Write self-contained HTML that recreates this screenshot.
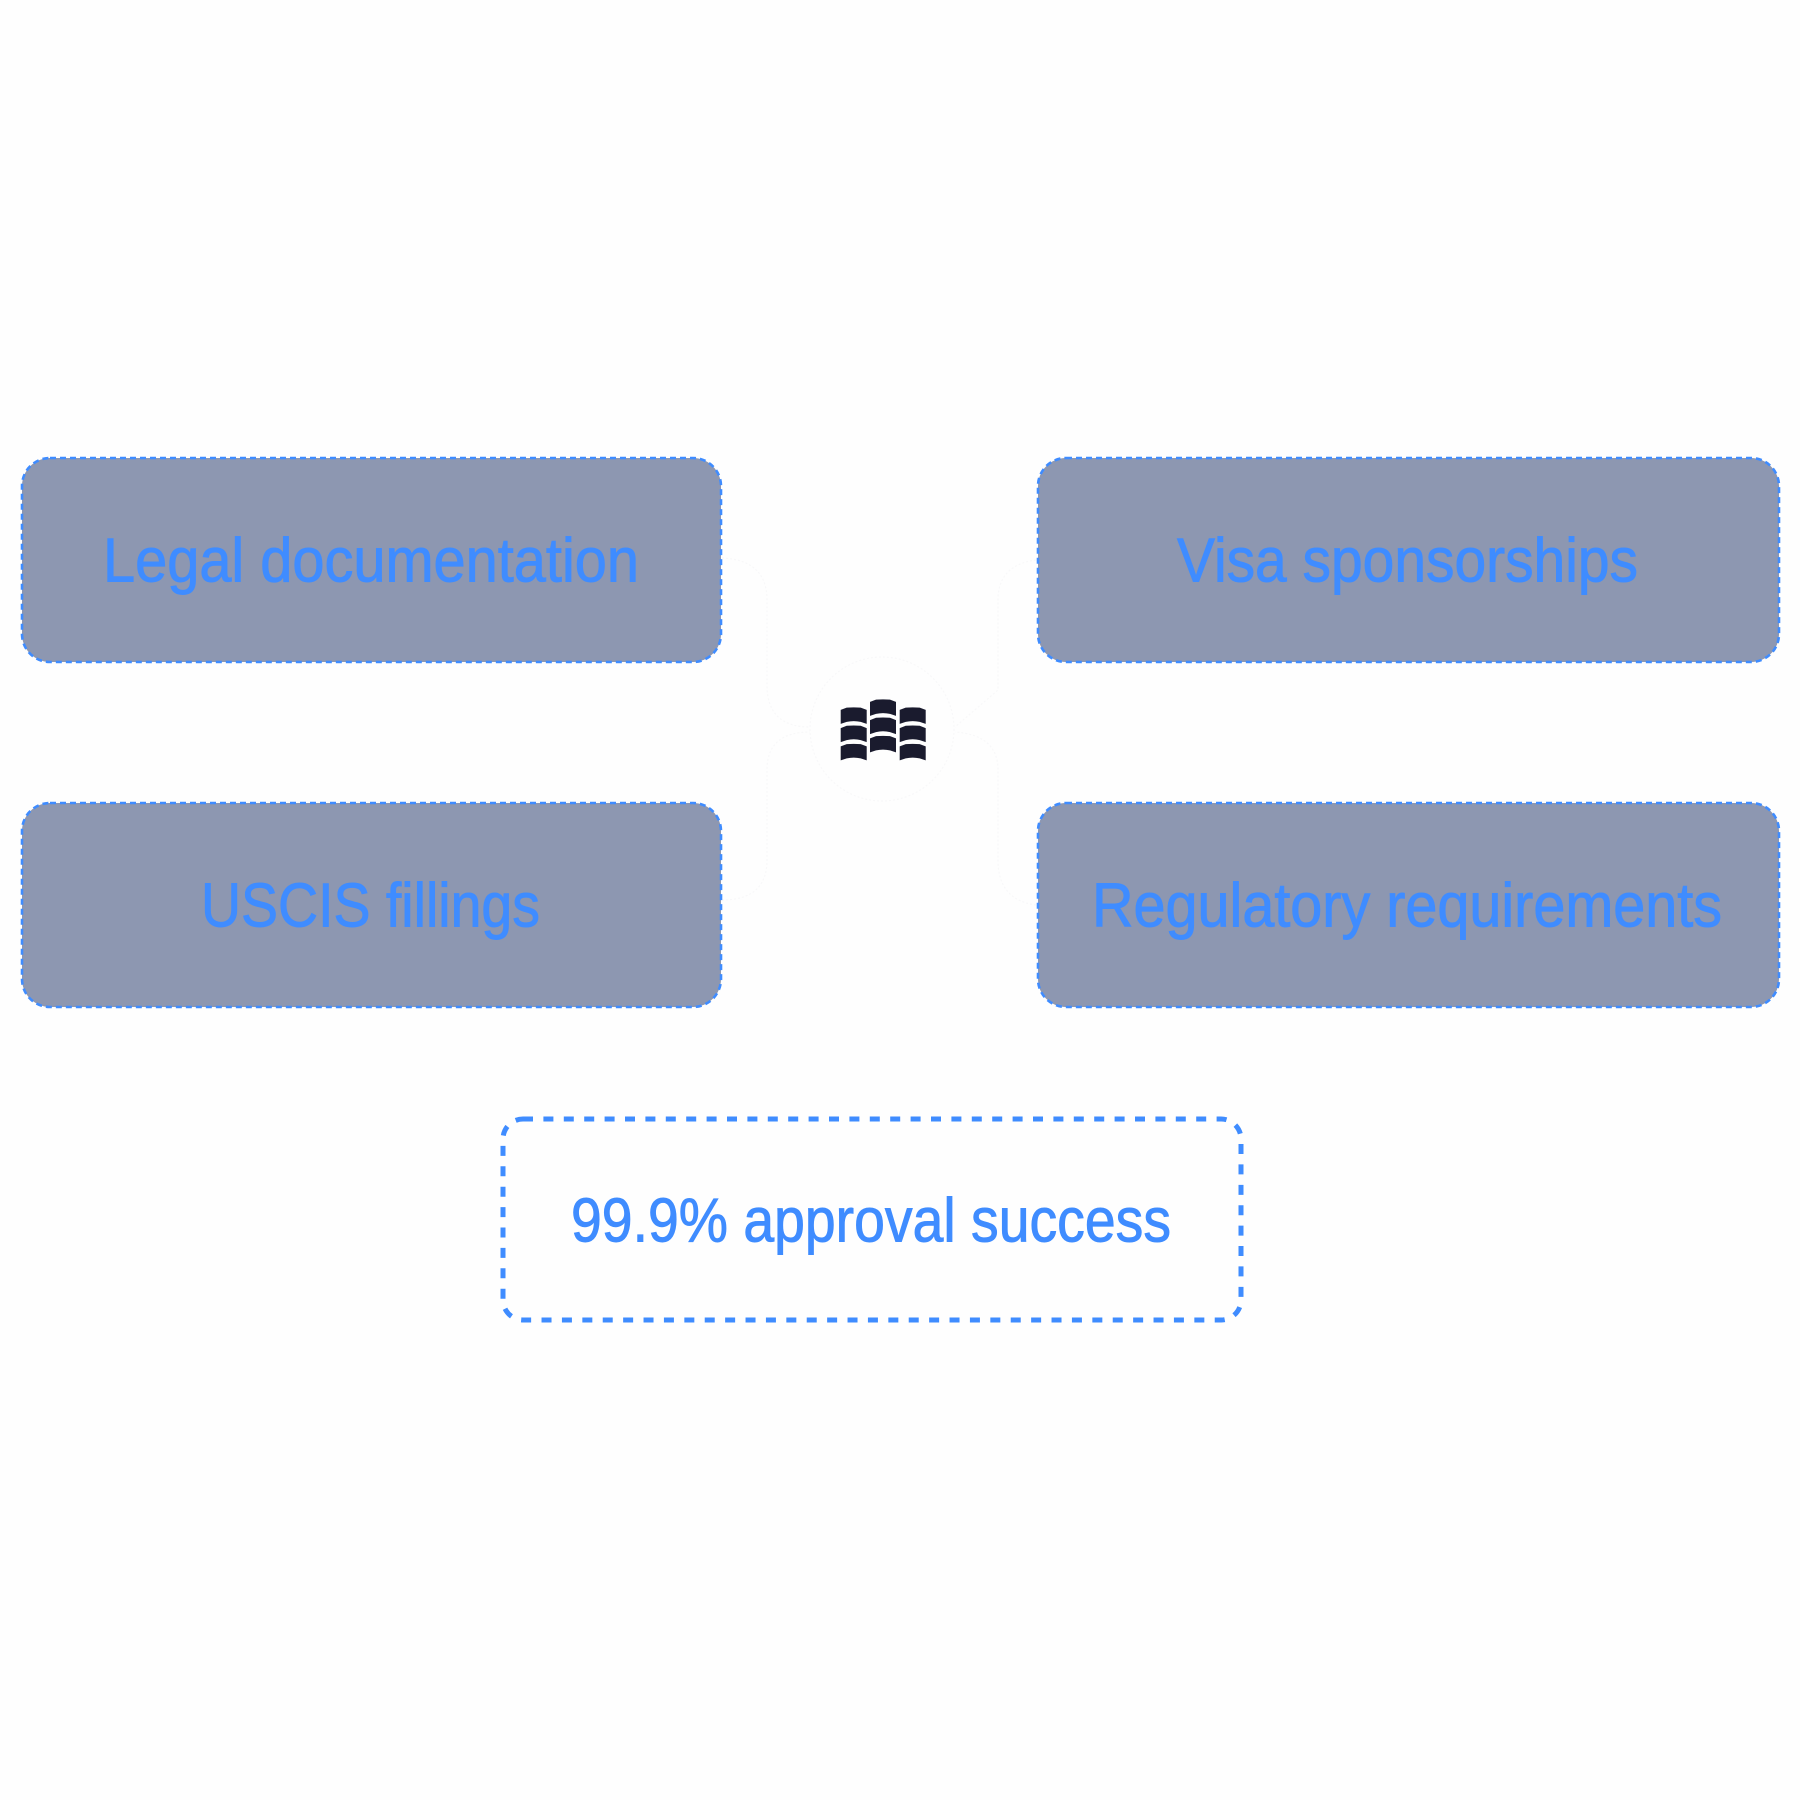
<!DOCTYPE html>
<html lang="en">
<head>
<meta charset="utf-8">
<title>Approval diagram</title>
<style>
html,body{margin:0;padding:0;background:#fefefe}
svg{display:block}
text{font-family:"Liberation Sans",sans-serif;fill:#3f8cff;stroke:#3f8cff;stroke-width:.9px;font-size:62px}
</style>
</head>
<body>
<svg width="1800" height="1800" viewBox="0 0 1800 1800" xmlns="http://www.w3.org/2000/svg">
<defs>
<path id="b" d="M0 2.6 L6 0.3 Q13 -0.2 20 0.3 L26 2.6 L26 16.6 L20 14.6 Q13 13 6 14.6 L0 16.6 Z" fill="#1a1b2e"/>
</defs>
<rect width="1800" height="1800" fill="#fefefe"/>

<!-- faint connectors -->
<g fill="none" stroke="#f8f8f9" stroke-width="1.2" stroke-dasharray="2 2">
<path d="M722 558 Q767 560 767 600 L767 685 Q767 727 810 727"/>
<path d="M722 900 Q767 900 767 860 L767 770 Q767 732 810 732"/>
<path d="M1036 560 Q998 565 998 600 L998 690 L955 727"/>
<path d="M1036 905 Q998 900 998 860 L998 770 Q998 735 955 732"/>
</g>
<circle cx="882" cy="729" r="72" fill="#fefefe" stroke="#f8f8f9" stroke-width="1.2" stroke-dasharray="2 2"/>

<!-- filled boxes -->
<g fill="#8d97b1" stroke="#3f8cff" stroke-width="2.6" stroke-dasharray="6 4">
<rect x="22" y="458" width="699" height="204" rx="28"/>
<rect x="1038" y="458" width="741" height="204" rx="28"/>
<rect x="22" y="803" width="699" height="204" rx="28"/>
<rect x="1038" y="803" width="741" height="204" rx="28"/>
</g>

<!-- outline box -->
<rect x="503" y="1119" width="738" height="201" rx="20" fill="none" stroke="#3f8cff" stroke-width="5" stroke-dasharray="10 10.4"/>

<!-- labels -->
<text x="103" y="581.5" textLength="536" lengthAdjust="spacingAndGlyphs">Legal documentation</text>
<text x="1177" y="581.5" textLength="461" lengthAdjust="spacingAndGlyphs">Visa sponsorships</text>
<text x="201" y="926.5" textLength="339" lengthAdjust="spacingAndGlyphs">USCIS fillings</text>
<text x="1092" y="926.5" textLength="630" lengthAdjust="spacingAndGlyphs">Regulatory requirements</text>
<text x="571" y="1241.5" textLength="600" lengthAdjust="spacingAndGlyphs">99.9% approval success</text>

<!-- book icon -->
<use href="#b" x="840.7" y="707.3"/>
<use href="#b" x="840.7" y="725.5"/>
<use href="#b" x="840.7" y="743.8"/>
<use href="#b" x="870" y="699.3"/>
<use href="#b" x="870" y="717.5"/>
<use href="#b" x="870" y="735.8"/>
<use href="#b" x="899.7" y="707.3"/>
<use href="#b" x="899.7" y="725.5"/>
<use href="#b" x="899.7" y="743.8"/>
</svg>
</body>
</html>
